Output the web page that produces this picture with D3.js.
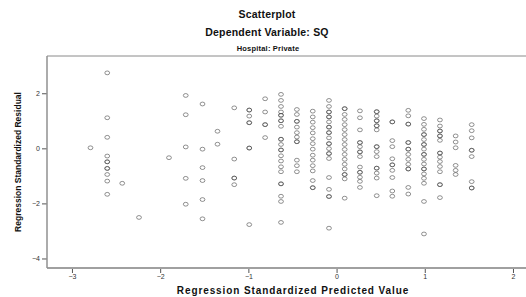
<!DOCTYPE html>
<html>
<head>
<meta charset="utf-8">
<script src="https://cdn.jsdelivr.net/npm/d3@7/dist/d3.min.js"></script>
<style>
  body { margin: 0; background: #fff; }
  svg { display: block; font-family: "Liberation Sans", Arial, sans-serif; }
</style>
</head>
<body>
<svg id="chart" width="526" height="297"></svg>
<script>
// predicted value of each column of points, and the residuals stacked in it
const predicted = [-2.79, -2.60, -2.43, -2.24, -1.90, -1.71, -1.52, -1.35, -1.16, -0.99, -0.81,
  -0.63, -0.45, -0.27, -0.086, 0.092, 0.265, 0.455, 0.632, 0.813, 0.991, 1.172, 1.350, 1.532];
const residuals = [
  [0.02],
  [2.74, 1.11, 0.40, -0.28, -0.49, -0.49, -0.73, -0.73, -0.95, -1.19, -1.67],
  [-1.27],
  [-2.51],
  [-0.34],
  [1.92, 1.22, 0.05, -1.09, -2.03],
  [1.61, -0.03, -0.70, -1.17, -1.86, -2.56],
  [0.62, 0.15],
  [1.47, -0.39, -1.08, -1.08, -1.32],
  [1.39, 1.39, 1.17, 0.93, 0.93, 0.01, 0.01, -2.77],
  [1.80, 1.32, 0.86, 0.86, 0.39],
  [1.96, 1.74, 1.52, 1.32, 1.20, 1.20, 1.00, 1.00, 0.80, 0.33, 0.33, 0.14, -0.06, -0.06,
    -0.27, -0.46, -0.67, -0.85, -1.29, -1.29, -1.74, -1.93, -2.69],
  [1.41, 1.23, 0.98, 0.98, 0.77, 0.57, 0.41, 0.24, 0.24, -0.43, -0.63, -0.85],
  [1.35, 1.14, 0.95, 0.75, 0.56, 0.35, 0.17, -0.03, -0.25, -0.43, -0.63, -0.82, -1.17, -1.43, -1.43],
  [1.74, 1.52, 1.32, 1.32, 1.14, 1.14, 0.96, 0.77, 0.77, 0.57, 0.57, 0.38, 0.17, 0.17, -0.01,
    -0.19, -0.19, -0.37, -1.06, -1.49, -1.75, -1.75, -2.90],
  [1.44, 1.44, 1.23, 1.05, 0.86, 0.68, 0.50, 0.32, 0.14, -0.04, -0.22, -0.40, -0.58, -0.75,
    -0.95, -0.95, -1.11, -1.81],
  [1.36, 1.11, 0.67, 0.21, 0.21, 0.06, -0.13, -0.13, -0.30, -0.68, -0.87, -0.87, -1.05, -1.20, -1.42],
  [1.33, 1.33, 1.17, 1.00, 1.00, 0.82, 0.82, 0.67, 0.06, 0.06, -0.12, -0.30, -0.72, -0.72,
    -0.90, -1.08, -1.72],
  [0.96, 0.96, 0.28, 0.06, -0.38, -0.60, -0.60, -0.80, -1.06, -1.55, -1.74],
  [1.38, 1.18, 0.88, 0.88, 0.21, 0.21, -0.03, -0.03, -0.22, -0.40, -0.58, -0.75, -0.75, -1.42, -1.66],
  [1.08, 0.87, 0.69, 0.50, 0.50, 0.32, 0.14, 0.14, -0.03, -0.22, -0.22, -0.40, -0.57, -0.75,
    -0.75, -0.93, -1.09, -1.27, -1.93, -3.11],
  [1.03, 0.81, 0.63, 0.63, 0.45, 0.45, 0.29, -0.17, -0.17, -0.32, -0.48, -0.66, -0.85, -1.32, -1.32, -1.79],
  [0.45, 0.23, 0.02, -0.62, -0.80, -0.95],
  [0.86, 0.64, 0.38, -0.07, -0.07, -0.30, -1.21, -1.44, -1.44]
];
const xTicks = [-3, -2, -1, 0, 1, 2];
const yTicks = [-4, -2, 0, 2];
const titles = ["Scatterplot", "Dependent Variable: SQ", "Hospital: Private"];
const xLabel = "Regression Standardized Predicted Value";
const yLabel = "Regression Standardized Residual";

const points = predicted.flatMap((p, i) => residuals[i].map((r) => ({ p, r })));

const svg = d3.select("#chart");
const m = { left: 47, right: 524, top: 56, bottom: 268 };

const x = d3.scaleLinear().domain([-3.283, 2.125]).range([m.left, m.right]);
const y = d3.scaleLinear().domain([-4.346, 3.353]).range([m.bottom, m.top]);

// titles
svg.append("text").attr("x", 267).attr("y", 18).attr("text-anchor", "middle")
  .attr("font-size", 10.5).attr("font-weight", "bold").attr("fill", "#111")
  .attr("letter-spacing", 0.2).text(titles[0]);
svg.append("text").attr("x", 267).attr("y", 36).attr("text-anchor", "middle")
  .attr("font-size", 10.5).attr("font-weight", "bold").attr("fill", "#111")
  .attr("letter-spacing", 0.2).text(titles[1]);
svg.append("text").attr("x", 268).attr("y", 51).attr("text-anchor", "middle")
  .attr("font-size", 7.5).attr("font-weight", "bold").attr("fill", "#111")
  .attr("letter-spacing", 0.2).text(titles[2]);

// frame (top edge), axes drawn below
svg.append("line").attr("x1", m.left).attr("x2", m.right + 2).attr("y1", m.top).attr("y2", m.top)
  .attr("stroke", "#8a8a8a").attr("stroke-width", 1);

const xAxis = svg.append("g").attr("transform", `translate(0,${m.bottom})`)
  .call(d3.axisBottom(x).tickValues(xTicks).tickSize(5).tickPadding(1).tickFormat(d3.format("d")));
const yAxis = svg.append("g").attr("transform", `translate(${m.left},0)`)
  .call(d3.axisLeft(y).tickValues(yTicks).tickSize(5).tickPadding(2).tickFormat(d3.format("d")));

for (const ax of [xAxis, yAxis]) {
  ax.select(".domain").remove();
  ax.selectAll(".tick line").attr("stroke", "#555");
  ax.selectAll(".tick text").attr("font-size", 7).attr("fill", "#333")
    .attr("font-family", "Liberation Sans, Arial, sans-serif");
}
svg.append("line").attr("x1", m.left).attr("x2", m.right + 2).attr("y1", m.bottom).attr("y2", m.bottom)
  .attr("stroke", "#a0a0a0").attr("stroke-width", 2);
svg.append("line").attr("x1", m.left).attr("x2", m.left).attr("y1", m.top).attr("y2", m.bottom)
  .attr("stroke", "#909090").attr("stroke-width", 1.5);

// axis titles
svg.append("text").attr("x", 293).attr("y", 294).attr("text-anchor", "middle")
  .attr("font-size", 10).attr("font-weight", "bold").attr("fill", "#111")
  .attr("letter-spacing", 0.9).text(xLabel);
svg.append("text").attr("transform", `translate(21,${(m.top + m.bottom) / 2}) rotate(-90)`)
  .attr("text-anchor", "middle").attr("font-size", 8.5).attr("font-weight", "bold")
  .attr("fill", "#111").text(yLabel);

// points
svg.append("g").selectAll("ellipse").data(points).join("ellipse")
  .attr("cx", (d) => x(d.p)).attr("cy", (d) => y(d.r))
  .attr("rx", 2.4).attr("ry", 1.9)
  .attr("fill", "none").attr("stroke", "#4a4a4a").attr("stroke-opacity", 0.6)
  .attr("stroke-width", 1);
</script>
</body>
</html>
